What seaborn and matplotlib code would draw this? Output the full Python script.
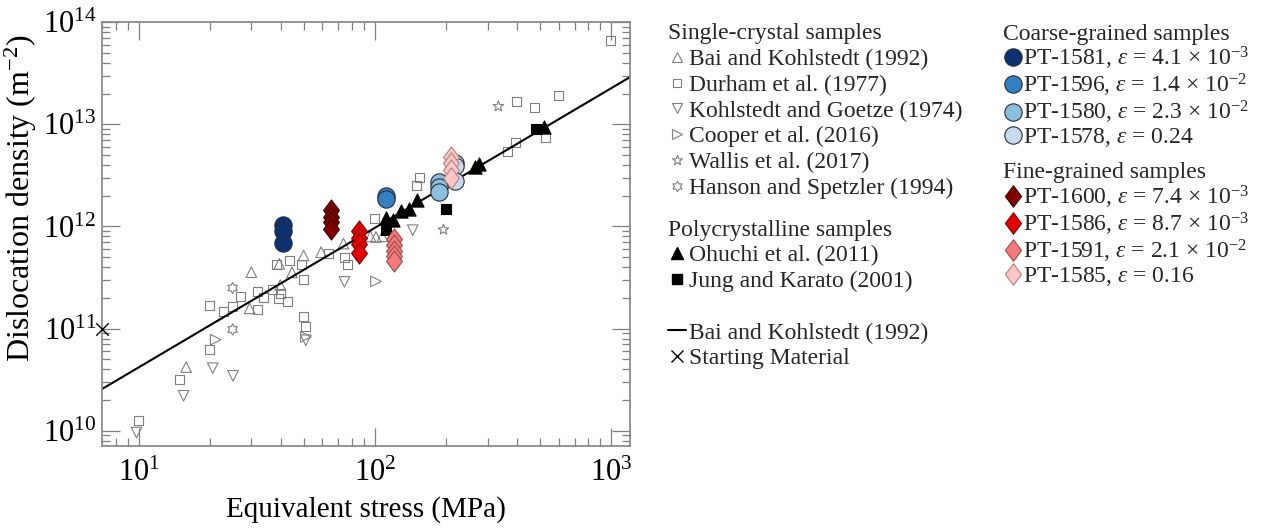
import numpy as np
import pandas as pd
import matplotlib
matplotlib.use("Agg")
import matplotlib.pyplot as plt
import matplotlib.ticker as mticker
from matplotlib.lines import Line2D
from matplotlib.path import Path
from matplotlib.markers import MarkerStyle
import seaborn as sns

# ---------------- data (stress in MPa, dislocation density in m^-2) ----------------
bai_stress = [15.9, 29.5, 30, 39.4, 39.8, 44.6, 49.9, 59.2, 73.6, 95.7, 101, 107.6]
bai_rho = [4.2e10, 1.58e11, 3.57e11, 4.3e11, 2.67e11, 3.55e11, 5.2e11, 5.6e11, 6.8e11, 8.0e11, 7.9e11, 8.0e11]

durham_stress = [10, 14.9, 20, 20, 22.9, 24.9, 27, 31.9, 31.9, 33.9, 36.7, 38.2, 39.2, 40, 42.8,
                 43.7, 48.8, 50, 50, 50.8, 63.8, 74.3, 76.8, 100, 150, 154, 365, 392, 399, 475,
                 525, 599, 991]
durham_rho = [1.27e10, 3.2e10, 1.67e11, 6.2e10, 1.48e11, 1.63e11, 2.08e11, 2.3e11, 1.55e11, 2.0e11,
              2.4e11, 4.2e11, 1.98e11, 2.2e11, 1.83e11, 4.6e11, 4.2e11, 3.0e11, 1.3e11, 1.04e11,
              5.4e11, 5.0e11, 4.2e11, 1.2e12, 2.5e12, 3.05e12, 5.37e12, 6.6e12, 1.66e13, 1.46e13,
              7.4e12, 1.93e13, 6.65e13]

kg_stress = [9.8, 15.5, 20.6, 25.1, 51, 74.3, 144.6]
kg_rho = [0.96e10, 2.2e10, 4.1e10, 3.45e10, 7.7e10, 2.87e11, 9.2e11]

cooper_stress = [21.2, 51, 101]
cooper_rho = [7.8e10, 8.3e10, 2.9e11]

wallis_stress = [195, 333]
wallis_rho = [9.3e11, 1.5e13]

hanson_stress = [25, 25]
hanson_rho = [2.5e11, 9.8e10]

ohuchi_stress = [111, 119, 129, 139, 150, 266, 277, 518]
ohuchi_rho = [1.2e12, 1.15e12, 1.42e12, 1.5e12, 1.8e12, 3.8e12, 4.1e12, 9.4e12]

jung_stress = [111.5, 199, 481]
jung_rho = [9.2e11, 1.5e12, 9.1e12]

start_stress = [7]
start_rho = [1e11]

fit_stress = [7, 1200]
fit_rho = [2.56e10, 2.9e13]

pt1581_stress = [40.7, 40.7, 40.7]
pt1581_rho = [1.03e12, 9.0e11, 6.9e11]
pt1596_stress = [111.5, 111.5]
pt1596_rho = [2.0e12, 1.85e12]
pt1580_stress = [187, 187, 187]
pt1580_rho = [2.7e12, 2.45e12, 2.2e12]
pt1578_stress = [219, 219, 219]
pt1578_rho = [4.2e12, 3.9e12, 2.8e12]

pt1600_stress = [65.3, 65.3, 65.3, 65.3]
pt1600_rho = [1.45e12, 1.25e12, 1.1e12, 9.5e11]
pt1586_stress = [85.5, 85.5, 85.5, 85.5]
pt1586_rho = [9.0e11, 7.8e11, 6.8e11, 5.5e11]
pt1591_stress = [120.8, 120.8, 120.8, 120.8, 120.8]
pt1591_rho = [7.5e11, 6.6e11, 5.8e11, 5.1e11, 4.6e11]
pt1585_stress = [210, 210, 210, 210]
pt1585_rho = [4.8e12, 4.2e12, 3.6e12, 3.0e12]

single_labels = ["Bai and Kohlstedt (1992)", "Durham et al. (1977)", "Kohlstedt and Goetze (1974)",
                 "Cooper et al. (2016)", "Wallis et al. (2017)", "Hanson and Spetzler (1994)"]
poly_labels = ["Ohuchi et al. (2011)", "Jung and Karato (2001)"]
other_labels = ["Bai and Kohlstedt (1992)", "Starting Material"]
coarse_labels = [r"PT-1581, $\varepsilon$ = 4.1 × 10$^{-3}$", r"PT-1596, $\varepsilon$ = 1.4 × 10$^{-2}$",
                 r"PT-1580, $\varepsilon$ = 2.3 × 10$^{-2}$", r"PT-1578, $\varepsilon$ = 0.24"]
fine_labels = [r"PT-1600, $\varepsilon$ = 7.4 × 10$^{-3}$", r"PT-1586, $\varepsilon$ = 8.7 × 10$^{-3}$",
               r"PT-1591, $\varepsilon$ = 2.1 × 10$^{-2}$", r"PT-1585, $\varepsilon$ = 0.16"]
coarse_colors = ["#0b3170", "#3380c2", "#8cbfdd", "#c7dbef"]
fine_colors = ["#7e0000", "#e60000", "#f47a7a", "#fcc6c6"]
fine_edges = ["#3a0000", "#7a0000", "#9a4a4a", "#b08080"]

# ---------------- style ----------------
sns.set_theme(style="ticks")
plt.rcParams['font.family'] = ['Liberation Serif', 'DejaVu Serif']
plt.rcParams['mathtext.fontset'] = 'custom'
plt.rcParams['mathtext.rm'] = 'Liberation Serif'
plt.rcParams['mathtext.it'] = 'Liberation Serif:italic'
plt.rcParams['mathtext.bf'] = 'Liberation Serif:bold'

fig = plt.figure(figsize=(12.65, 5.29), dpi=100)
ax = fig.add_axes([0.0806, 0.157, 0.4174, 0.801])
ax.set_xscale('log')
ax.set_yscale('log')

GRAY = "#7f7f7f"
diamond = MarkerStyle(Path([(0, 1), (0.75, 0), (0, -1), (-0.75, 0), (0, 1)],
                           [Path.MOVETO, Path.LINETO, Path.LINETO, Path.LINETO, Path.CLOSEPOLY]))
star5 = MarkerStyle(Path.unit_regular_star(5, 0.42))
star6 = MarkerStyle(Path.unit_regular_star(6, 0.58))


def scat(x, y, marker, s, fc, ec, lw=0.8, z=2, **kw):
    sns.scatterplot(x=x, y=y, marker=marker, s=s, facecolor=fc, edgecolor=ec,
                    linewidth=lw, zorder=z, legend=False, ax=ax, **kw)


# open literature markers
scat(durham_stress, durham_rho, 's', 42, 'none', GRAY)
scat(bai_stress, bai_rho, '^', 58, 'none', GRAY)
scat(kg_stress, kg_rho, 'v', 58, 'none', GRAY)
scat(cooper_stress, cooper_rho, '>', 58, 'none', GRAY)
scat(wallis_stress, wallis_rho, star5, 62, 'none', GRAY)
scat(hanson_stress, hanson_rho, star6, 62, 'none', GRAY)

# fit line
sns.lineplot(x=fit_stress, y=fit_rho, color='black', linewidth=1.5, ax=ax, zorder=2.5)

# polycrystalline literature
scat(ohuchi_stress, ohuchi_rho, '^', 90, 'black', 'black', z=2.6)
scat(jung_stress, jung_rho, 's', 45, 'black', 'black', z=2.6)
sns.scatterplot(x=start_stress, y=start_rho, marker='x', s=80, color='black', linewidth=1.0,
                clip_on=False, zorder=5, legend=False, ax=ax)

# this study
for xs, ys, c in zip([pt1581_stress, pt1596_stress, pt1580_stress, pt1578_stress],
                     [pt1581_rho, pt1596_rho, pt1580_rho, pt1578_rho], coarse_colors):
    scat(xs, ys, 'o', 155, c, "#2b2b3b", lw=0.8, z=3)
for xs, ys, c, e in zip([pt1600_stress, pt1586_stress, pt1591_stress, pt1585_stress],
                        [pt1600_rho, pt1586_rho, pt1591_rho, pt1585_rho], fine_colors, fine_edges):
    scat(xs, ys, diamond, 230, c, e, lw=0.8, z=3.5)

# ---------------- axes ----------------
ax.set_xlim(7, 1200)
ax.set_ylim(7.1e9, 1e14)
ax.xaxis.set_major_locator(mticker.LogLocator(base=10, numticks=10))
ax.yaxis.set_major_locator(mticker.LogLocator(base=10, numticks=10))
ax.xaxis.set_minor_locator(mticker.LogLocator(base=10, subs=np.arange(2, 10), numticks=20))
ax.yaxis.set_minor_locator(mticker.LogLocator(base=10, subs=np.arange(2, 10), numticks=20))
ax.xaxis.set_minor_formatter(mticker.NullFormatter())
ax.yaxis.set_minor_formatter(mticker.NullFormatter())
ax.tick_params(which='both', direction='in', top=True, right=True, color=GRAY, width=0.9)
ax.tick_params(which='major', length=13, labelsize=22, labelcolor='black')
ax.tick_params(which='minor', length=6)
ax.tick_params(axis='x', which='major', pad=9)
ax.tick_params(axis='y', which='major', pad=4)
for sp in ax.spines.values():
    sp.set_color("#8c8c8c")
    sp.set_linewidth(1.3)
ax.set_xlabel("Equivalent stress (MPa)", fontsize=21, labelpad=6, color='black')
ax.set_ylabel("Dislocation density (m$^{-2}$)", fontsize=23, color='black')
ax.yaxis.set_label_coords(-0.12, 0.585)

# ---------------- legends ----------------
FS = 17
leg_kw = dict(loc='upper left', frameon=False, fontsize=FS, title_fontsize=FS, borderpad=0,
              borderaxespad=0, labelspacing=0.18, handletextpad=0.15, handlelength=0.75,
              alignment='left', bbox_transform=fig.transFigure)

ms_small = 7.5
h_single = [
    Line2D([], [], ls='none', marker='^', ms=ms_small, mfc='none', mec=GRAY, mew=0.8),
    Line2D([], [], ls='none', marker='s', ms=ms_small - 1.5, mfc='none', mec=GRAY, mew=0.8),
    Line2D([], [], ls='none', marker='v', ms=ms_small, mfc='none', mec=GRAY, mew=0.8),
    Line2D([], [], ls='none', marker='>', ms=ms_small, mfc='none', mec=GRAY, mew=0.8),
    Line2D([], [], ls='none', marker=star5, ms=ms_small, mfc='none', mec=GRAY, mew=0.8),
    Line2D([], [], ls='none', marker=star6, ms=ms_small, mfc='none', mec=GRAY, mew=0.8),
]
h_poly = [
    Line2D([], [], ls='none', marker='^', ms=ms_small + 1, mfc='black', mec='black'),
    Line2D([], [], ls='none', marker='s', ms=ms_small - 1, mfc='black', mec='black'),
]
h_other = [
    Line2D([], [], color='black', lw=1.5),
    Line2D([], [], ls='none', marker='x', ms=9, mec='black', mew=1.0),
]
h_coarse = [Line2D([], [], ls='none', marker='o', ms=12.5, mfc=c, mec="#2b2b3b", mew=0.8)
            for c in coarse_colors]
h_fine = [Line2D([], [], ls='none', marker=diamond, ms=15.5, mfc=c, mec=e, mew=0.8)
          for c, e in zip(fine_colors, fine_edges)]

fig.legend(h_single, single_labels, title="Single-crystal samples",
           bbox_to_anchor=(0.528, 0.956), **leg_kw)
fig.legend(h_poly, poly_labels, title="Polycrystalline samples",
           bbox_to_anchor=(0.528, 0.585), **leg_kw)
fig.legend(h_other, other_labels, bbox_to_anchor=(0.528, 0.391), **leg_kw)
leg_kw2 = dict(leg_kw, handlelength=0.8, handletextpad=0.05, labelspacing=0.0)
fig.legend(h_coarse, coarse_labels, title="Coarse-grained samples",
           bbox_to_anchor=(0.793, 0.955), **leg_kw2)
fig.legend(h_fine, fine_labels, title="Fine-grained samples",
           bbox_to_anchor=(0.793, 0.693), **leg_kw2)

fig.savefig("out.png", dpi=100)
